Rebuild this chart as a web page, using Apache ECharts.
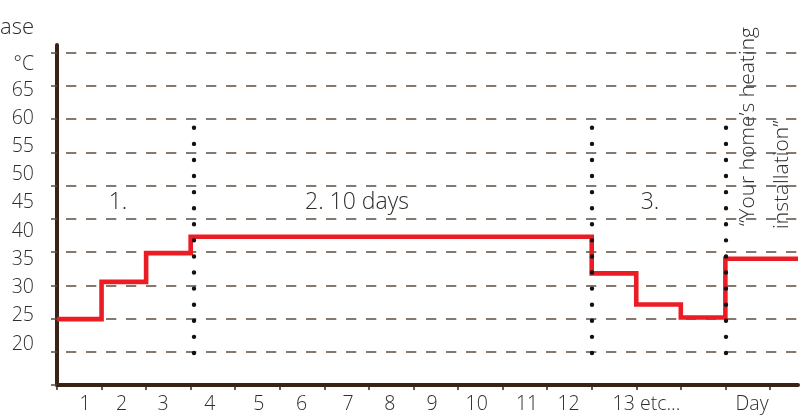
<!DOCTYPE html>
<html>
<head>
<meta charset="utf-8">
<script src="https://cdn.jsdelivr.net/npm/echarts@6/dist/echarts.min.js"></script>
<style>
html,body{margin:0;padding:0;background:#fff;}
#chart{width:805px;height:416px;}
</style>
</head>
<body>
<div id="chart"></div>
<script>
// ---- data ----
var stepDays   = [0, 1, 2, 3, 12, 13, 14, 15, 16.63];
var stepTemps  = [24.4, 31.0, 36.1, 39.0, 32.5, 27.0, 24.7, 35.1, 35.1];
var phaseDays  = [3.08, 12, 15];           // dotted phase separators
var phaseTop   = 58.3;
var phaseBottom = 15.6;
var dayLabels    = ['1','2','3','4','5','6','7','8','9','10','11','12','13 etc...','Day'];
var dayLabelPos  = [0.63,1.45,2.38,3.43,4.53,5.49,6.53,7.47,8.42,9.42,10.55,11.48,13.23,15.6];
var dayTicks     = [0,1,2,3,4,5,6,7,8,9,10,11,12,13,14,15,16];
var tempLabels   = [20,25,30,35,40,45,50,55,60,65];
var gridSteps    = [0,1,2,3,4,5,6,7,8,9,10];
var unitLabel    = '°C';
var unitLabelPos = 69.5;
var phaseTexts   = ['1.', '2. 10 days', '3.'];
var noteLines    = ['\u201CYour home\u2019s heating', 'installation\u201D'];
var cutTitle     = 'ase';

var FONT = '"Open Sans"';
var TXT = '#2e2e2e';
var DARK = '#3a2316';
var GRID = '#5e4c40';

var chart = echarts.init(document.getElementById('chart'), null, {renderer:'canvas'});

var lineData = stepDays.map(function(d,i){ return [d, stepTemps[i]]; });
var markData = phaseDays.map(function(d){ return [{coord:[d, phaseTop]},{coord:[d, phaseBottom]}]; });

function findLabel(v){
  for (var i=0;i<dayLabelPos.length;i++){ if (Math.abs(dayLabelPos[i]-v)<1e-6) return dayLabels[i]; }
  return '';
}

chart.setOption({
  animation:false,
  grid:{left:57,right:7,top:45,bottom:31,outerBoundsMode:'none'},
  xAxis:{
    type:'value', min:0, max:16.63,
    axisLine:{show:true,lineStyle:{color:DARK,width:4}},
    axisTick:{show:true,customValues:dayTicks,length:5,lineStyle:{color:DARK,width:1.5}},
    axisLabel:{show:true,customValues:dayLabelPos,formatter:function(v){return findLabel(v);},
      color:TXT,fontFamily:FONT,fontWeight:300,fontSize:19.5,margin:9},
    splitLine:{show:false}
  },
  yAxis:[{
    type:'value', min:12.73, max:72.97, position:'left',
    axisLine:{show:true,lineStyle:{color:DARK,width:4}},
    axisTick:{show:false},
    axisLabel:{show:true,customValues:tempLabels.concat([unitLabelPos]),
      formatter:function(v){ return v>66 ? unitLabel : String(v); },
      color:TXT,fontFamily:FONT,fontWeight:300,fontSize:19.5,margin:23},
    splitLine:{show:false}
  },{
    type:'value', min:0, max:10.23, position:'left',
    axisLine:{show:false},
    axisTick:{show:true,customValues:gridSteps,length:6,lineStyle:{color:GRID,width:1.5}},
    axisLabel:{show:false,customValues:gridSteps},
    splitLine:{show:true,lineStyle:{color:GRID,width:1.5,type:[10.3,9.7],dashOffset:11}}
  }],
  series:[{
    type:'line', xAxisIndex:0, yAxisIndex:0,
    data:lineData, step:'end', showSymbol:false, symbol:'none',
    lineStyle:{color:'#ec1c24',width:4.6,cap:'butt',join:'miter'},
    z:3,
    markLine:{
      silent:true, symbol:'none', label:{show:false}, z:5,
      lineStyle:{color:'#111111',width:4.4,type:[0.01,16.07],cap:'round'},
      data:markData
    }
  },{
    type:'line', yAxisIndex:1, data:[]
  }],
  graphic:[
    {type:'text',x:34,y:28,style:{text:cutTitle,align:'right',verticalAlign:'middle',font:'300 22px '+FONT,fill:TXT}},
    {type:'text',x:118,y:202,style:{text:phaseTexts[0],align:'center',verticalAlign:'middle',font:'300 23px '+FONT,fill:TXT}},
    {type:'text',x:357,y:202,style:{text:phaseTexts[1],align:'center',verticalAlign:'middle',font:'300 23px '+FONT,fill:TXT}},
    {type:'text',x:650,y:202,style:{text:phaseTexts[2],align:'center',verticalAlign:'middle',font:'300 23px '+FONT,fill:TXT}},
    {type:'text',x:748,y:226,rotation:Math.PI/2,style:{text:noteLines[0],align:'left',verticalAlign:'middle',font:'300 21px '+FONT,fill:TXT}},
    {type:'text',x:782,y:229,rotation:Math.PI/2,style:{text:noteLines[1],align:'left',verticalAlign:'middle',font:'300 21px '+FONT,fill:TXT}}
  ]
});
</script>
</body>
</html>
